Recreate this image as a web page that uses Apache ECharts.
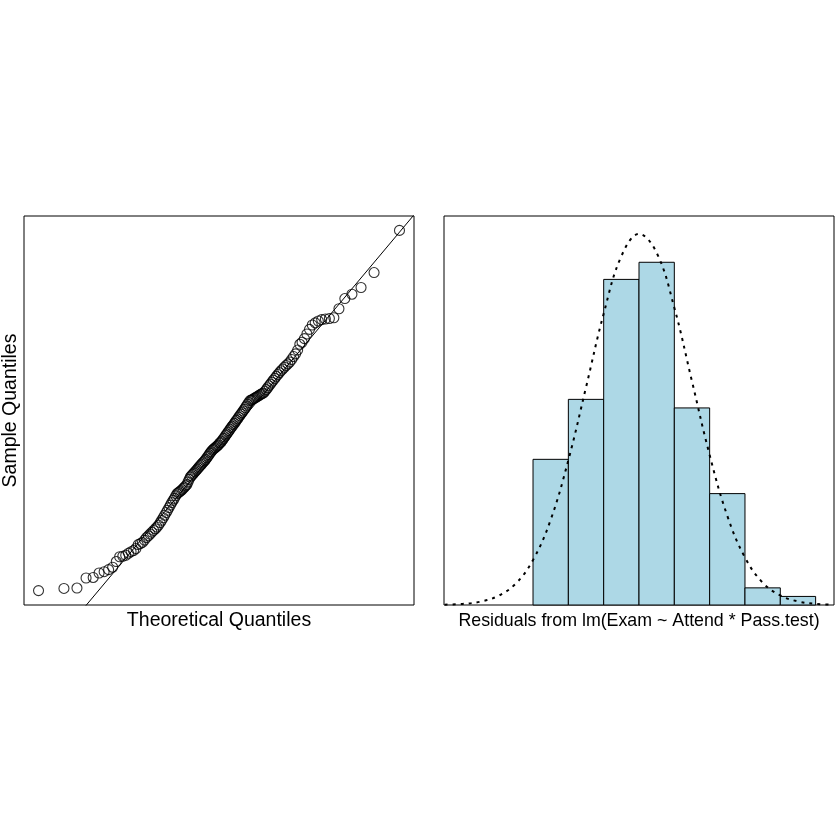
<!DOCTYPE html>
<html>
<head>
<meta charset="utf-8">
<script src="https://cdn.jsdelivr.net/npm/echarts@6/dist/echarts.min.js"></script>
<style>html,body{margin:0;padding:0;background:#fff}#c{width:840px;height:840px}</style>
</head>
<body>
<div id="c"></div>
<script>
// Sorted residuals (sample quantiles)
const residuals = [
-14.48,-14.27,-14.23,-13.24,-13.19,-12.75,-12.62,-12.42,-12.18,-11.62,
-11.15,-11.10,-11.00,-10.80,-10.65,-10.54,-10.34,-9.95,-9.85,-9.74,
-9.51,-9.27,-9.09,-8.91,-8.73,-8.56,-8.39,-8.22,-8.03,-7.79,
-7.56,-7.31,-7.06,-6.80,-6.57,-6.31,-6.07,-5.82,-5.60,-5.40,
-5.15,-4.95,-4.85,-4.75,-4.65,-4.55,-4.42,-4.30,-4.17,-4.05,
-3.79,-3.53,-3.30,-3.17,-3.04,-2.92,-2.79,-2.67,-2.54,-2.41,
-2.29,-2.16,-2.04,-1.92,-1.81,-1.69,-1.56,-1.40,-1.26,-1.11,
-0.95,-0.81,-0.67,-0.58,-0.48,-0.40,-0.30,-0.22,-0.13,0.03,
0.10,0.22,0.37,0.51,0.66,0.81,0.95,1.11,1.25,1.40,
1.56,1.70,1.84,1.98,2.14,2.28,2.43,2.59,2.74,2.89,
3.04,3.20,3.36,3.54,3.70,3.87,4.04,4.22,4.27,4.34,
4.40,4.47,4.55,4.62,4.69,4.78,4.86,4.92,4.98,5.14,
5.31,5.49,5.68,5.85,6.04,6.23,6.41,6.61,6.79,6.98,
7.17,7.33,7.51,7.68,7.84,8.02,8.27,8.56,8.83,9.20,
9.77,9.97,10.33,10.78,11.24,11.67,11.88,12.06,12.20,12.26,
12.31,12.38,13.27,14.27,14.70,15.36,16.83,20.98
];
// Q-Q reference line endpoints [theoretical, sample]
const qqLine = [[-3, -23.6], [3, 22.9]];

// Histogram
const binEdges = [-15, -10, -5, 0, 5, 10, 15, 20, 25];
const histCounts = [17, 24, 38, 40, 23, 13, 2, 1];

// Dotted normal curve (in count units)
const curveX = [-27.5,-25,-22.5,-20,-17.5,-15,-12.5,-10,-7.5,-5,-2.5,0,2.5,5,7.5,10,12.5,15,17.5,20,22.5,25,27.5];
const curveY = [0.04,0.13,0.38,1.03,2.45,5.25,9.95,16.9,25.4,34.0,40.7,43.3,41.1,34.7,26.1,17.5,10.4,5.54,2.62,1.11,0.42,0.14,0.04];

const labels = {
  qqX: 'Theoretical Quantiles',
  qqY: 'Sample Quantiles',
  histX: 'Residuals from lm(Exam ~ Attend * Pass.test)'
};

// Theoretical normal quantiles for ppoints(n) (statistical transform of the Q-Q plot)
function qnorm(p){
  const a=[-3.969683028665376e+01,2.209460984245205e+02,-2.759285104469687e+02,1.383577518672690e+02,-3.066479806614716e+01,2.506628277459239e+00];
  const b=[-5.447609879822406e+01,1.615858368580409e+02,-1.556989798598866e+02,6.680131188771972e+01,-1.328068155288572e+01];
  const c=[-7.784894002430293e-03,-3.223964580411365e-01,-2.400758277161838e+00,-2.549732539343734e+00,4.374664141464968e+00,2.938163982698783e+00];
  const d=[7.784695709041462e-03,3.224671290700398e-01,2.445134137142996e+00,3.754408661907416e+00];
  const plow=0.02425, phigh=1-plow; let q, r;
  if(p<plow){ q=Math.sqrt(-2*Math.log(p)); return (((((c[0]*q+c[1])*q+c[2])*q+c[3])*q+c[4])*q+c[5])/((((d[0]*q+d[1])*q+d[2])*q+d[3])*q+1); }
  if(p<=phigh){ q=p-0.5; r=q*q; return (((((a[0]*r+a[1])*r+a[2])*r+a[3])*r+a[4])*r+a[5])*q/(((((b[0]*r+b[1])*r+b[2])*r+b[3])*r+b[4])*r+1); }
  q=Math.sqrt(-2*Math.log(1-p)); return -(((((c[0]*q+c[1])*q+c[2])*q+c[3])*q+c[4])*q+c[5])/((((d[0]*q+d[1])*q+d[2])*q+d[3])*q+1);
}
const n = residuals.length;
const qqData = residuals.map((s, i) => [qnorm((i + 1 - 0.5) / n), s]);
const histData = histCounts.map((cnt, i) => [binEdges[i], binEdges[i + 1], cnt]);
const curveData = curveX.map((x, i) => [x, curveY[i]]);

const FONT = 'Liberation Sans, Arial, Helvetica, sans-serif';
const hiddenAxis = {
  axisLine: {show: false}, axisTick: {show: false}, axisLabel: {show: false}, splitLine: {show: false}
};

const chart = echarts.init(document.getElementById('c'), null, {renderer: 'canvas'});
chart.setOption({
  animation: false,
  backgroundColor: '#ffffff',
  grid: [
    {left: 24, top: 216, width: 390, height: 389, show: true, borderColor: '#000', borderWidth: 1, backgroundColor: 'transparent', containLabel: false, outerBoundsMode: 'none'},
    {left: 444, top: 216, width: 390, height: 389, show: true, borderColor: '#000', borderWidth: 1, backgroundColor: 'transparent', containLabel: false, outerBoundsMode: 'none'}
  ],
  xAxis: [
    Object.assign({type: 'value', gridIndex: 0, min: -2.95, max: 2.95,
      name: labels.qqX, nameLocation: 'middle', nameGap: 6,
      nameTextStyle: {fontSize: 19.5, color: '#000', fontFamily: FONT}}, hiddenAxis),
    Object.assign({type: 'value', gridIndex: 1, min: -27.6, max: 27.6,
      name: labels.histX, nameLocation: 'middle', nameGap: 7,
      nameTextStyle: {fontSize: 17.8, color: '#000', fontFamily: FONT}}, hiddenAxis)
  ],
  yAxis: [
    Object.assign({type: 'value', gridIndex: 0, min: -15.9, max: 22.4,
      name: labels.qqY, nameLocation: 'middle', nameGap: 3, nameRotate: 90,
      nameTextStyle: {fontSize: 19.5, color: '#000', fontFamily: FONT}}, hiddenAxis),
    Object.assign({type: 'value', gridIndex: 1, min: 0, max: 45.4}, hiddenAxis)
  ],
  series: [
    {
      type: 'scatter', xAxisIndex: 0, yAxisIndex: 0, data: qqData,
      symbol: 'circle', symbolSize: 10,
      itemStyle: {color: 'rgba(0,0,0,0)', borderColor: '#000', borderWidth: 1.1},
      emphasis: {disabled: true}, silent: true
    },
    {
      type: 'line', xAxisIndex: 0, yAxisIndex: 0, data: qqLine,
      symbol: 'none', clip: true,
      lineStyle: {color: '#000', width: 1}, silent: true
    },
    {
      type: 'custom', xAxisIndex: 1, yAxisIndex: 1, data: histData,
      encode: {x: [0, 1], y: 2},
      renderItem: function (params, api) {
        const p0 = api.coord([api.value(0), api.value(2)]);
        const p1 = api.coord([api.value(1), 0]);
        return {
          type: 'rect',
          shape: {x: p0[0], y: p0[1], width: p1[0] - p0[0], height: p1[1] - p0[1]},
          style: {fill: '#ADD8E6', stroke: '#000', lineWidth: 1}
        };
      },
      silent: true
    },
    {
      type: 'line', xAxisIndex: 1, yAxisIndex: 1, data: curveData,
      symbol: 'none', smooth: 0.4, clip: true,
      lineStyle: {color: '#000', width: 2, type: [3, 5]}, silent: true
    }
  ]
});
</script>
</body>
</html>
